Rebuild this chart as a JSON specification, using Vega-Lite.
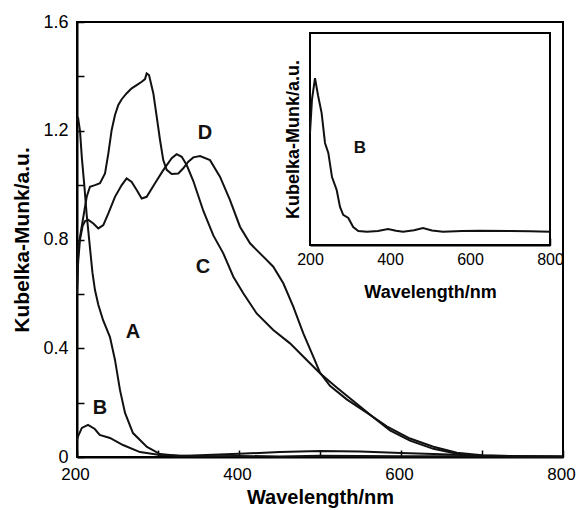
{
  "$schema": "https://vega.github.io/schema/vega-lite/v6.json",
  "width": 486,
  "height": 435,
  "autosize": "none",
  "padding": {"left": 77, "top": 22, "right": 14, "bottom": 53},
  "background": "white",
  "config": {
    "view": {"stroke": "black", "strokeWidth": 2},
    "font": "Liberation Sans",
    "axis": {
      "grid": false,
      "labelFont": "Liberation Sans",
      "titleFont": "Liberation Sans",
      "labelColor": "black",
      "titleColor": "black",
      "tickColor": "black",
      "domainColor": "black",
      "domainWidth": 2,
      "tickWidth": 1.5,
      "titleFontWeight": "bold",
      "labelOverlap": false,
      "labelFlush": false
    }
  },
  "datasets": {
    "main": [
      {"s": "A", "w": 200, "k": 1.24}, {"s": "A", "w": 201.2, "k": 1.25}, {"s": "A", "w": 203.7, "k": 1.2}, {"s": "A", "w": 206, "k": 1.1}, {"s": "A", "w": 209, "k": 1.0}, {"s": "A", "w": 212, "k": 0.89}, {"s": "A", "w": 216, "k": 0.77}, {"s": "A", "w": 219, "k": 0.68}, {"s": "A", "w": 222.2, "k": 0.614}, {"s": "A", "w": 226.3, "k": 0.56}, {"s": "A", "w": 232.1, "k": 0.504}, {"s": "A", "w": 240.7, "k": 0.441}, {"s": "A", "w": 246.9, "k": 0.357}, {"s": "A", "w": 253.1, "k": 0.246}, {"s": "A", "w": 259.3, "k": 0.162}, {"s": "A", "w": 269.1, "k": 0.088}, {"s": "A", "w": 286.4, "k": 0.037}, {"s": "A", "w": 302.5, "k": 0.011}, {"s": "A", "w": 327, "k": 0.004}, {"s": "A", "w": 400, "k": 0.012}, {"s": "A", "w": 450, "k": 0.018}, {"s": "A", "w": 500, "k": 0.022}, {"s": "A", "w": 550, "k": 0.02}, {"s": "A", "w": 600, "k": 0.015}, {"s": "A", "w": 650, "k": 0.01}, {"s": "A", "w": 700, "k": 0.005}, {"s": "A", "w": 750, "k": 0.003}, {"s": "A", "w": 800, "k": 0.002},
      {"s": "B", "w": 200, "k": 0.063}, {"s": "B", "w": 201, "k": 0.074}, {"s": "B", "w": 206, "k": 0.107}, {"s": "B", "w": 213.6, "k": 0.118}, {"s": "B", "w": 222, "k": 0.103}, {"s": "B", "w": 228, "k": 0.081}, {"s": "B", "w": 240.7, "k": 0.07}, {"s": "B", "w": 256.8, "k": 0.044}, {"s": "B", "w": 277.8, "k": 0.018}, {"s": "B", "w": 302.5, "k": 0.007}, {"s": "B", "w": 350, "k": 0.003}, {"s": "B", "w": 400, "k": 0.004}, {"s": "B", "w": 450, "k": 0.002}, {"s": "B", "w": 500, "k": 0.005}, {"s": "B", "w": 600, "k": 0.003}, {"s": "B", "w": 700, "k": 0.003}, {"s": "B", "w": 800, "k": 0.002},
      {"s": "C", "w": 200, "k": 0.62}, {"s": "C", "w": 201.5, "k": 0.72}, {"s": "C", "w": 203.7, "k": 0.8}, {"s": "C", "w": 207, "k": 0.85}, {"s": "C", "w": 210, "k": 0.868}, {"s": "C", "w": 214, "k": 0.872}, {"s": "C", "w": 220.2, "k": 0.859}, {"s": "C", "w": 226.3, "k": 0.841}, {"s": "C", "w": 232.5, "k": 0.853}, {"s": "C", "w": 238.7, "k": 0.896}, {"s": "C", "w": 246.9, "k": 0.957}, {"s": "C", "w": 255.2, "k": 1.0}, {"s": "C", "w": 261.3, "k": 1.025}, {"s": "C", "w": 267.5, "k": 1.012}, {"s": "C", "w": 273.7, "k": 0.982}, {"s": "C", "w": 279.9, "k": 0.951}, {"s": "C", "w": 286, "k": 0.957}, {"s": "C", "w": 296.3, "k": 1.007}, {"s": "C", "w": 306.5, "k": 1.055}, {"s": "C", "w": 316.9, "k": 1.099}, {"s": "C", "w": 323, "k": 1.114}, {"s": "C", "w": 329.3, "k": 1.104}, {"s": "C", "w": 335.4, "k": 1.074}, {"s": "C", "w": 343.6, "k": 1.015}, {"s": "C", "w": 356, "k": 0.905}, {"s": "C", "w": 368.3, "k": 0.815}, {"s": "C", "w": 380.6, "k": 0.749}, {"s": "C", "w": 393, "k": 0.663}, {"s": "C", "w": 405.3, "k": 0.602}, {"s": "C", "w": 421.8, "k": 0.528}, {"s": "C", "w": 442.3, "k": 0.467}, {"s": "C", "w": 463, "k": 0.418}, {"s": "C", "w": 483.6, "k": 0.357}, {"s": "C", "w": 500, "k": 0.308}, {"s": "C", "w": 520.6, "k": 0.256}, {"s": "C", "w": 545.3, "k": 0.196}, {"s": "C", "w": 565.8, "k": 0.146}, {"s": "C", "w": 586.4, "k": 0.098}, {"s": "C", "w": 611.1, "k": 0.06}, {"s": "C", "w": 640, "k": 0.03}, {"s": "C", "w": 669, "k": 0.012}, {"s": "C", "w": 700, "k": 0.004}, {"s": "C", "w": 750, "k": 0.001}, {"s": "C", "w": 800, "k": 0.0},
      {"s": "D", "w": 200, "k": 0.6}, {"s": "D", "w": 201.6, "k": 0.77}, {"s": "D", "w": 205.8, "k": 0.847}, {"s": "D", "w": 212, "k": 0.957}, {"s": "D", "w": 216, "k": 0.994}, {"s": "D", "w": 222.2, "k": 1.0}, {"s": "D", "w": 228.4, "k": 1.007}, {"s": "D", "w": 234.6, "k": 1.043}, {"s": "D", "w": 238.7, "k": 1.117}, {"s": "D", "w": 242.8, "k": 1.203}, {"s": "D", "w": 246.9, "k": 1.258}, {"s": "D", "w": 251, "k": 1.295}, {"s": "D", "w": 255.2, "k": 1.316}, {"s": "D", "w": 261.4, "k": 1.338}, {"s": "D", "w": 267.5, "k": 1.356}, {"s": "D", "w": 273.7, "k": 1.368}, {"s": "D", "w": 279.9, "k": 1.38}, {"s": "D", "w": 284, "k": 1.39}, {"s": "D", "w": 286, "k": 1.411}, {"s": "D", "w": 288.9, "k": 1.405}, {"s": "D", "w": 294.2, "k": 1.338}, {"s": "D", "w": 298.4, "k": 1.252}, {"s": "D", "w": 302.5, "k": 1.166}, {"s": "D", "w": 306.5, "k": 1.092}, {"s": "D", "w": 310.7, "k": 1.056}, {"s": "D", "w": 316.9, "k": 1.041}, {"s": "D", "w": 325.1, "k": 1.043}, {"s": "D", "w": 331.2, "k": 1.062}, {"s": "D", "w": 337.4, "k": 1.086}, {"s": "D", "w": 343.6, "k": 1.102}, {"s": "D", "w": 351.9, "k": 1.107}, {"s": "D", "w": 364.2, "k": 1.092}, {"s": "D", "w": 376.5, "k": 1.031}, {"s": "D", "w": 388.9, "k": 0.945}, {"s": "D", "w": 401.2, "k": 0.847}, {"s": "D", "w": 413.6, "k": 0.786}, {"s": "D", "w": 430, "k": 0.737}, {"s": "D", "w": 442.3, "k": 0.7}, {"s": "D", "w": 454.7, "k": 0.639}, {"s": "D", "w": 467, "k": 0.553}, {"s": "D", "w": 479.4, "k": 0.455}, {"s": "D", "w": 491.7, "k": 0.369}, {"s": "D", "w": 500, "k": 0.31}, {"s": "D", "w": 512.3, "k": 0.262}, {"s": "D", "w": 533, "k": 0.212}, {"s": "D", "w": 557.7, "k": 0.163}, {"s": "D", "w": 582.4, "k": 0.113}, {"s": "D", "w": 611.1, "k": 0.068}, {"s": "D", "w": 640, "k": 0.038}, {"s": "D", "w": 669, "k": 0.016}, {"s": "D", "w": 700, "k": 0.006}, {"s": "D", "w": 750, "k": 0.002}, {"s": "D", "w": 800, "k": 0.001}
    ],
    "mainLabels": [
      {"t": "A", "w": 269, "k": 0.46},
      {"t": "B", "w": 228.4, "k": 0.18},
      {"t": "C", "w": 355.6, "k": 0.7},
      {"t": "D", "w": 358, "k": 1.19}
    ],
    "inset": [
      {"w": 200, "k": 0.0745}, {"w": 205, "k": 0.1}, {"w": 212.5, "k": 0.116}, {"w": 220, "k": 0.103}, {"w": 229, "k": 0.0897}, {"w": 237.5, "k": 0.067}, {"w": 245.8, "k": 0.0595}, {"w": 255, "k": 0.0413}, {"w": 266.7, "k": 0.0315}, {"w": 275, "k": 0.0187}, {"w": 283, "k": 0.0127}, {"w": 295.8, "k": 0.0104}, {"w": 308, "k": 0.0036}, {"w": 320.8, "k": 0.0006}, {"w": 342.5, "k": 0.0}, {"w": 370, "k": 0.0005}, {"w": 395, "k": 0.0021}, {"w": 415, "k": 0.0008}, {"w": 432.5, "k": 0.0}, {"w": 460, "k": 0.0012}, {"w": 482.5, "k": 0.0028}, {"w": 505, "k": 0.001}, {"w": 532.5, "k": 0.0}, {"w": 580, "k": 0.0005}, {"w": 625, "k": 0.0008}, {"w": 700, "k": 0.0006}, {"w": 750, "k": 0.0004}, {"w": 800, "k": 0.0}
    ],
    "insetLabels": [
      {"t": "B", "w": 325, "k": 0.063}
    ],
    "insetFrame": [
      {"w0": 200, "w1": 800, "k0": -0.01, "k1": 0.15}
    ]
  },
  "layer": [
    {
      "layer": [
        {
          "data": {"name": "main"},
          "mark": {"type": "line", "color": "#111", "strokeWidth": 2},
          "encoding": {
            "x": {
              "field": "w", "type": "quantitative",
              "scale": {"domain": [200, 800], "nice": false, "zero": false},
              "axis": {
                "orient": "bottom",
                "values": [200, 300, 400, 500, 600, 700, 800],
                "labelExpr": "datum.value % 200 == 0 ? datum.label : ''",
                "title": "Wavelength/nm",
                "tickSize": -7,
                "labelPadding": 16,
                "labelFontSize": 17,
                "labelOffset": -2,
                "titleFontSize": 20,
                "titlePadding": 5
              }
            },
            "y": {
              "field": "k", "type": "quantitative",
              "scale": {"domain": [0, 1.6], "nice": false},
              "axis": {
                "orient": "left",
                "values": [0, 0.2, 0.4, 0.6, 0.8, 1.0, 1.2, 1.4, 1.6],
                "labelExpr": "datum.value == 0 ? '0' : (round(datum.value * 10) % 4 == 0 ? format(datum.value, '.1f') : '')",
                "title": "Kubelka-Munk/a.u.",
                "tickSize": -7,
                "labelPadding": 16,
                "labelFontSize": 18,
                "titleFontSize": 21,
                "titlePadding": 10
              }
            },
            "detail": {"field": "s", "type": "nominal"}
          }
        },
        {
          "data": {"name": "mainLabels"},
          "mark": {"type": "text", "fontSize": 20, "fontWeight": "bold", "font": "Liberation Sans", "color": "#111", "align": "center", "baseline": "middle"},
          "encoding": {
            "x": {"field": "w", "type": "quantitative"},
            "y": {"field": "k", "type": "quantitative"},
            "text": {"field": "t"}
          }
        }
      ]
    },
    {
      "layer": [
        {
          "data": {"name": "insetFrame"},
          "mark": {"type": "rect", "fill": "white", "stroke": "black", "strokeWidth": 2},
          "encoding": {
            "x": {"field": "w0", "type": "quantitative",
              "scale": {"domain": [200, 800], "nice": false, "zero": false, "range": [233, 473]},
              "axis": {
                "orient": "bottom", "offset": -212,
                "values": [200, 300, 400, 500, 600, 700, 800],
                "labelExpr": "datum.value % 200 == 0 ? datum.label : ''",
                "title": "Wavelength/nm",
                "tickSize": -7, "labelPadding": 13,
                "labelFontSize": 16, "titleFontSize": 18, "titlePadding": 16
              }
            },
            "x2": {"field": "w1"},
            "y": {"field": "k0", "type": "quantitative",
              "scale": {"domain": [-0.01, 0.15], "nice": false, "zero": false, "range": [223, 11]},
              "axis": {
                "orient": "left", "offset": -233,
                "ticks": false, "labels": false, "domain": false,
                "title": "Kubelka-Munk/a.u.",
                "titleFontSize": 18, "titlePadding": 8
              }
            },
            "y2": {"field": "k1"}
          }
        },
        {
          "data": {"name": "inset"},
          "mark": {"type": "line", "color": "#111", "strokeWidth": 2},
          "encoding": {
            "x": {"field": "w", "type": "quantitative",
              "scale": {"domain": [200, 800], "nice": false, "zero": false, "range": [233, 473]},
              "axis": {
                "orient": "bottom", "offset": -212,
                "values": [200, 300, 400, 500, 600, 700, 800],
                "labelExpr": "datum.value % 200 == 0 ? datum.label : ''",
                "title": "Wavelength/nm",
                "tickSize": -7, "labelPadding": 13,
                "labelFontSize": 16, "titleFontSize": 18, "titlePadding": 16
              }
            },
            "y": {"field": "k", "type": "quantitative",
              "scale": {"domain": [-0.01, 0.15], "nice": false, "zero": false, "range": [223, 11]},
              "axis": {
                "orient": "left", "offset": -233,
                "ticks": false, "labels": false, "domain": false,
                "title": "Kubelka-Munk/a.u.",
                "titleFontSize": 18, "titlePadding": 8
              }
            }
          }
        },
        {
          "data": {"name": "insetLabels"},
          "mark": {"type": "text", "fontSize": 17, "fontWeight": "bold", "font": "Liberation Sans", "color": "#111", "align": "center", "baseline": "middle"},
          "encoding": {
            "x": {"field": "w", "type": "quantitative"},
            "y": {"field": "k", "type": "quantitative"},
            "text": {"field": "t"}
          }
        }
      ]
    }
  ],
  "resolve": {
    "scale": {"x": "independent", "y": "independent"},
    "axis": {"x": "independent", "y": "independent"}
  }
}
